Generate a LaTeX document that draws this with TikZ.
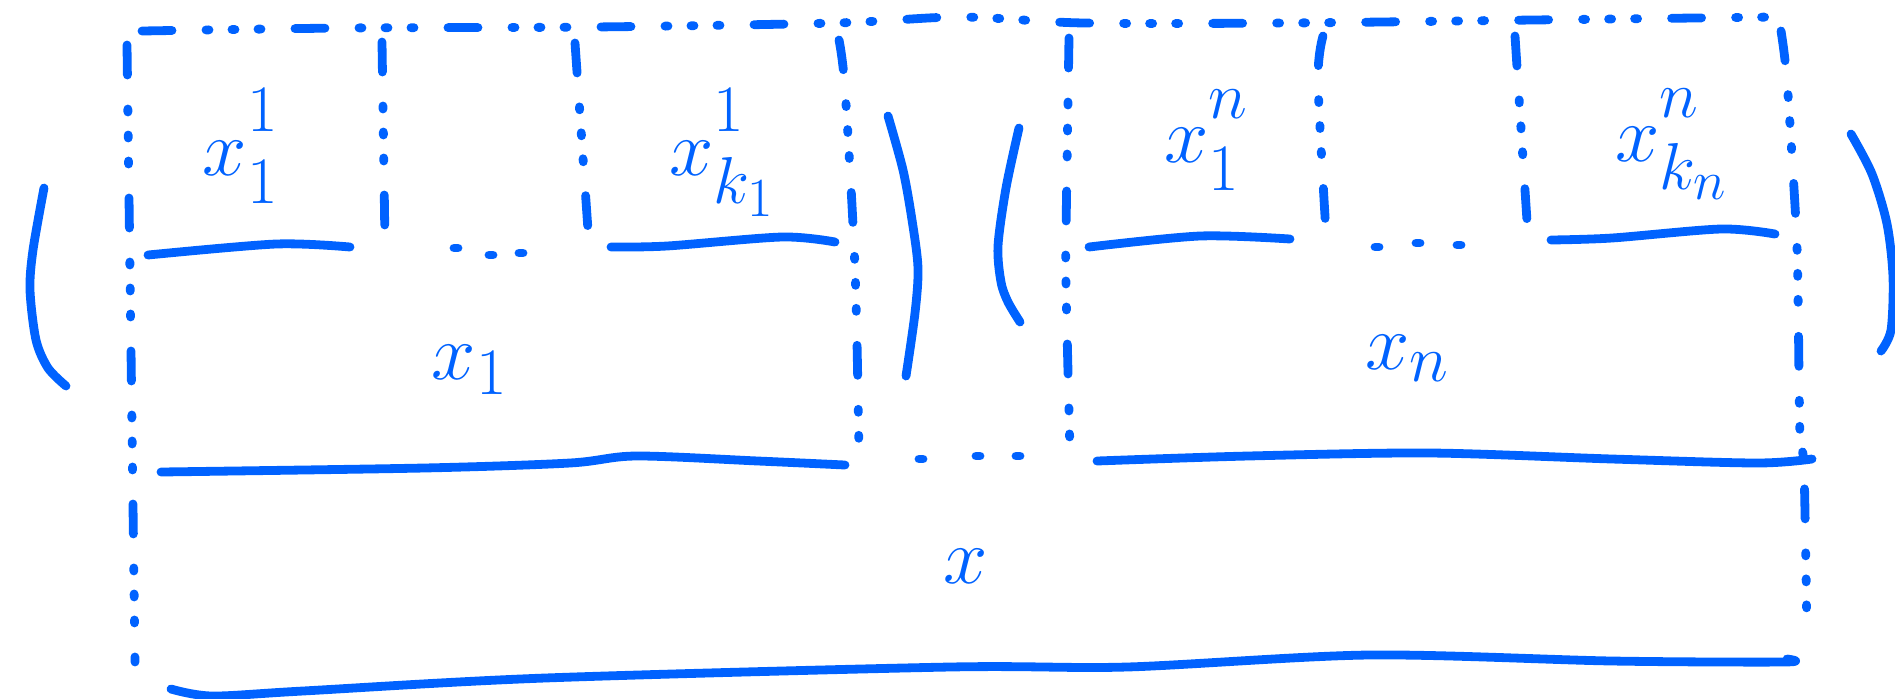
\documentclass[tikz,border=0pt]{standalone}
\definecolor{pen}{RGB}{0,98,255}
\tikzset{
  stroke/.style={draw=pen, line width=4.4pt, line cap=round, line join=round},
  dashdot/.style={stroke, dash pattern=on 15pt off 17pt on 1.5pt off 11.5pt on 1.5pt off 11.5pt on 1.5pt off 17pt},
  lbl/.style={text=pen, inner sep=0pt, font=\Huge, scale=1.6},
  dotmark/.style={stroke}
}
\newcommand{\spr}[1]{{\mathstrut #1}}
\begin{document}
\begin{tikzpicture}[x=0.5pt, y=-0.5pt]
\useasboundingbox (0,0) rectangle (1895,698);
% dash-dot edges
\draw[dashdot] plot[smooth] coordinates {(142,31) (345,28) (593,27) (835,23) (960,17) (1084,23) (1287,23) (1533,20) (1774,17)};
\draw[dashdot] plot[smooth] coordinates {(127,45) (131,350) (135,662)};
\draw[dashdot] (382,42) -- (385,244);
\draw[dashdot] (575,43) -- (588,230);
\draw[dashdot] plot[smooth] coordinates {(839,40) (845,89) (855,268) (859,452)};
\draw[dashdot] plot[smooth] coordinates {(1069,38) (1066,233) (1066,286) (1070,452)};
\draw[dashdot] plot[smooth] coordinates {(1323,36) (1318,81) (1326,233)};
\draw[dashdot] (1515,36) -- (1527,221);
\draw[dashdot] plot[smooth] coordinates {(1781,31) (1787,81) (1796,224) (1798,295) (1800,436) (1804,468) (1807,638)};
% solid bottoms
\draw[stroke] plot[smooth] coordinates {(148,255) (276,244) (350,247)};
\draw[stroke] plot[smooth] coordinates {(611,247) (667,246) (782,237) (835,242)};
\draw[stroke] plot[smooth] coordinates {(161,472) (424,468) (570,463) (636,456) (758,461) (845,465)};
\draw[stroke] plot[smooth] coordinates {(1089,247) (1200,236) (1290,239)};
\draw[stroke] plot[smooth] coordinates {(1551,240) (1612,238) (1721,229) (1775,234)};
\draw[stroke] plot[smooth] coordinates {(1097,461) (1248,456) (1430,453) (1612,459) (1757,463) (1812,459)};
\draw[stroke] plot[smooth] coordinates {(171,689) (212,696) (303,691) (545,678) (950,667) (1127,667) (1369,655) (1612,661) (1784,662) (1787,659)};
% parentheses
\draw[stroke] plot[smooth] coordinates {(44,188) (33,250) (30,290) (36,340) (48,368) (66,386)};
\draw[stroke] plot[smooth] coordinates {(888,116) (903,170) (912,220) (918,268) (915,313) (906,376)};
\draw[stroke] plot[smooth] coordinates {(1019,128) (1006,188) (998,246) (1001,282) (1008,302) (1020,322)};
\draw[stroke] plot[smooth] coordinates {(1851,134) (1872,174) (1887,224) (1893,277) (1891,330) (1881,351)};
% ellipsis dots
\foreach \px/\py in {456/248, 491/255, 521/253, 1377/247, 1418/243, 1459/245, 921/459, 978/456, 1018/456}
  \draw[dotmark] (\px-2,\py) -- (\px+2,\py);
% labels
\node[lbl] (x11) at (241,151) {$x^{\spr{1}}_{\spr{1}}$};
\node[lbl] (x1k) at (723,151) {$x^{\spr{1}}_{\spr{k_1}}$};
\node[lbl] (x1) at (470,370) {$x_1$};
\node[lbl] (xn1) at (1207,138) {$x^{\spr{n}}_{\spr{1}}$};
\node[lbl] (xnk) at (1672,137) {$x^{\spr{n}}_{\spr{k_n}}$};
\node[lbl] (xn) at (1408,358) {$x_n$};
\node[lbl] (x) at (966,566) {$x$};
\end{tikzpicture}
\end{document}
